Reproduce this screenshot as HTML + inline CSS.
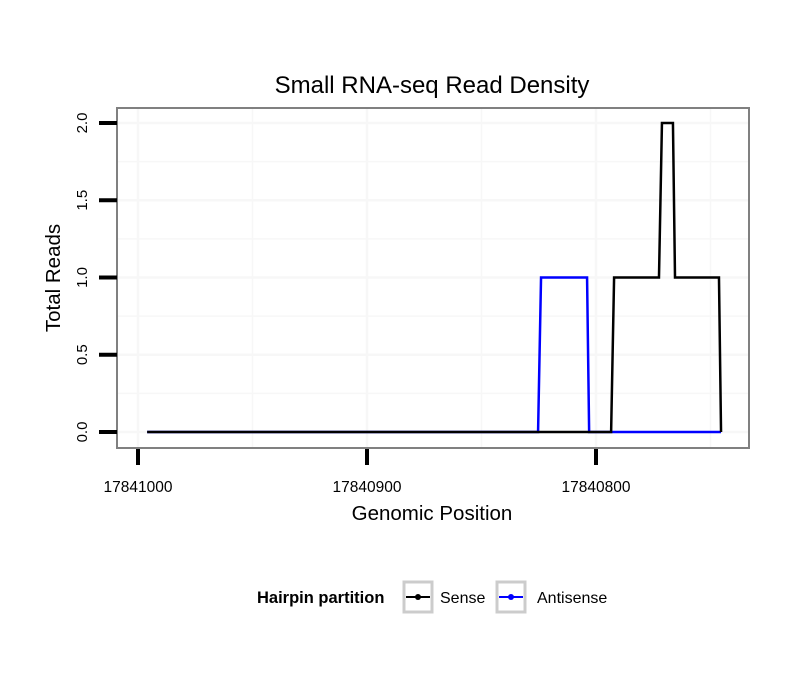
<!DOCTYPE html>
<html><head><meta charset="utf-8"><style>
body{margin:0;background:#fff}
text{font-family:"Liberation Sans",sans-serif}
</style></head><body>
<svg id="c" width="810" height="690" xmlns="http://www.w3.org/2000/svg">
<text x="432" y="93" font-size="24" text-anchor="middle">Small RNA-seq Read Density</text>
<g id="grid"></g>
<g id="series"></g>
<rect x="117" y="108" width="632" height="340" fill="none" stroke="#808080" stroke-width="2"/>
<g id="axes"></g>
<text x="432" y="520" font-size="20.5" text-anchor="middle">Genomic Position</text>
<text transform="translate(60,278) rotate(-90)" font-size="20.5" text-anchor="middle">Total Reads</text>
<g>
<text x="257" y="603" font-size="16.5" font-weight="bold">Hairpin partition</text>
<g>
<rect x="404" y="582" width="28" height="30" fill="#fff" stroke="#ccc" stroke-width="3"/>
<line x1="406" y1="597" x2="430" y2="597" stroke="#000" stroke-width="2"/><circle cx="418" cy="597" r="3" fill="#000"/>
<text x="440" y="603" font-size="16">Sense</text></g>
<g>
<rect x="497" y="582" width="28" height="30" fill="#fff" stroke="#ccc" stroke-width="3"/>
<line x1="499" y1="597" x2="523" y2="597" stroke="#00f" stroke-width="2"/><circle cx="511" cy="597" r="3" fill="#00f"/>
<text x="537" y="603" font-size="16">Antisense</text></g>
</g>
</svg>
<script>
const positions=[17840996,17840825.3,17840824,17840803.9,17840803,17840793.4,17840792.1,17840772.5,17840771.2,17840766.4,17840765.5,17840746.3,17840745.4];
const senseValues=[0,0,0,0,0,0,1,1,2,2,1,1,0];
const antisenseValues=[0,0,1,1,0,0,0,0,0,0,0,0,0];
const xTicks=[17841000,17840900,17840800];
const yTicks=[0,0.5,1,1.5,2];
const yTickLabels=["0.0","0.5","1.0","1.5","2.0"];
const NS="http://www.w3.org/2000/svg";
function xs(g){return 138+(17841000-g)*2.29;}
function ys(v){return 432-v*154.5;}
function mk(t,a,p){const e=document.createElementNS(NS,t);for(const k in a)e.setAttribute(k,a[k]);p.appendChild(e);return e;}
const grid=document.getElementById('grid'),axes=document.getElementById('axes'),ser=document.getElementById('series');
for(let g=17841000;g>=17840750;g-=50){const l=mk('line',{x1:xs(g),x2:xs(g),y1:109,y2:447,stroke:'#f7f7f7','stroke-width':g%100===0?2.5:1.5},grid);

}
for(let v=0;v<=2.1;v+=0.25){const l=mk('line',{x1:118,x2:748,y1:ys(v),y2:ys(v),stroke:'#f7f7f7','stroke-width':(v*2)%1===0?2.5:1.5},grid);

}
xTicks.forEach(g=>{const l=mk('line',{x1:xs(g),x2:xs(g),y1:449,y2:465,stroke:'#000','stroke-width':4},axes);


const t=mk('text',{x:xs(g),y:492,'font-size':15.5,'text-anchor':'middle'},axes);t.textContent=g;

});
yTicks.forEach((v,i)=>{const l=mk('line',{x1:99,x2:117,y1:ys(v),y2:ys(v),stroke:'#000','stroke-width':4},axes);


const t=mk('text',{transform:`translate(87,${ys(v)}) rotate(-90)`,'font-size':15,'text-anchor':'middle'},axes);t.textContent=yTickLabels[i];

});
function path(vals,col,name){const p=mk('polyline',{points:positions.map((g,i)=>xs(g)+','+ys(vals[i])).join(' '),fill:'none',stroke:col,'stroke-width':2.5},ser);

}
path(antisenseValues,'#00f','antisense-line');
path(senseValues,'#000','sense-line');
</script>
</body></html>
